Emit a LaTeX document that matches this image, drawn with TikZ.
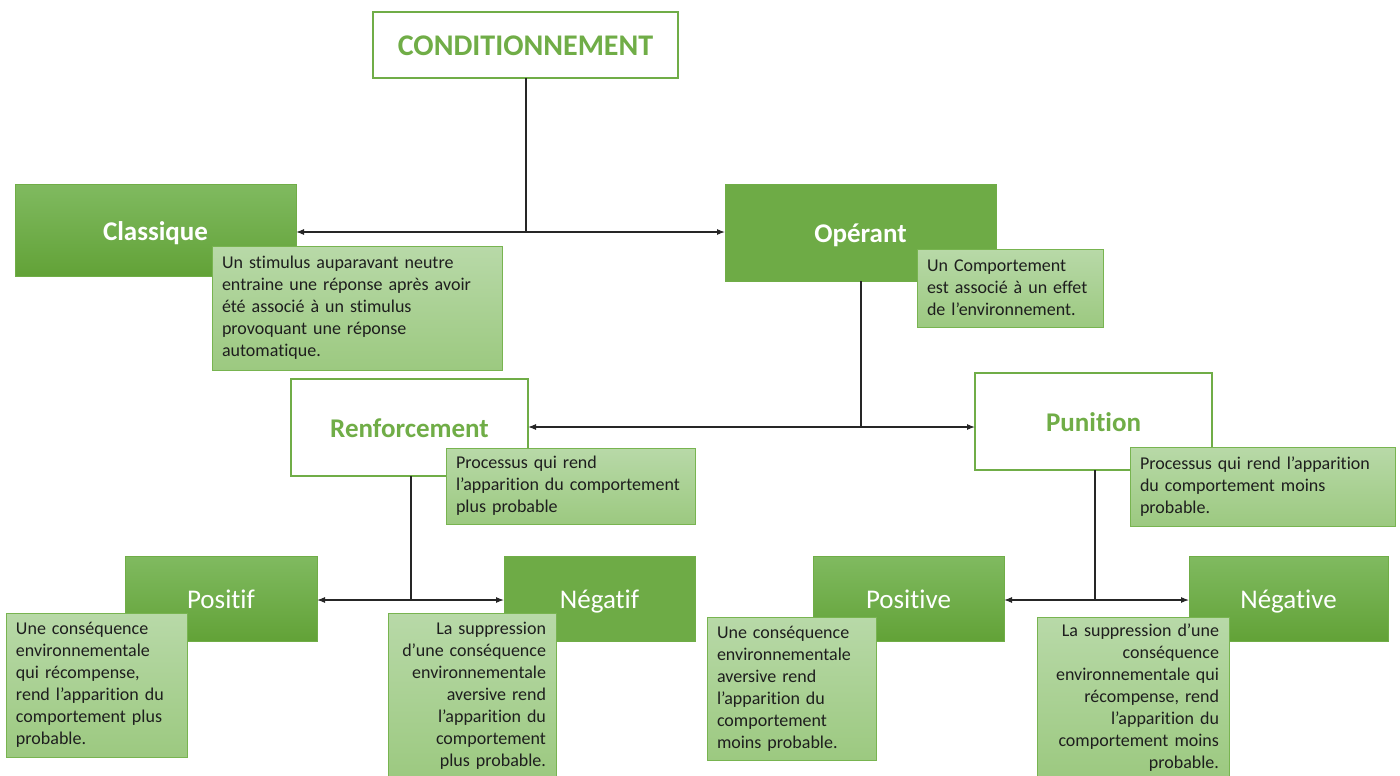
\documentclass[tikz,border=0pt]{standalone}
\usepackage{fontspec}
\setmainfont[Ligatures={NoCommon}]{Carlito}
\usetikzlibrary{arrows.meta}
\definecolor{gborder}{RGB}{112,173,71}
\definecolor{gtop}{RGB}{128,186,96}
\definecolor{gbot}{RGB}{98,162,55}
\definecolor{gflat}{RGB}{110,171,70}
\definecolor{dtop}{RGB}{184,217,168}
\definecolor{dbot}{RGB}{156,201,128}
\definecolor{dborder}{RGB}{120,180,80}
\definecolor{txt}{RGB}{30,30,30}
\tikzset{
  boxbase/.style={anchor=north west, inner sep=0pt, outer sep=0pt, align=center, text height=26pt, text depth=6pt},
  whitebox/.style={boxbase, draw=gborder, line width=1.3pt, fill=white, text=gborder, font=\fontsize{27}{30}\selectfont\bfseries},
  greenbox/.style={boxbase, draw=gborder, line width=0.6pt, top color=gtop, bottom color=gbot, text=white, font=\fontsize{27}{30}\selectfont\bfseries},
  flatbox/.style={boxbase, draw=gborder, line width=0.6pt, fill=gflat, text=white, font=\fontsize{27}{30}\selectfont\bfseries},
  regular/.style={font=\fontsize{27}{30}\selectfont},
  descbox/.style={anchor=north west, outer sep=0pt, inner xsep=10pt, inner ysep=0pt, draw=dborder, line width=0.8pt, top color=dtop, bottom color=dbot, text=txt, font=\fontsize{18}{22}\selectfont},
  conn/.style={draw=black!85, line width=1.1pt},
  biarrow/.style={conn, {Latex[length=8pt,width=6pt]}-{Latex[length=8pt,width=6pt]}},
}
\newcommand{\mybox}[7]{\node[#1, minimum width=#4pt, minimum height=#5pt, #6] (#2) at #3 {#7};}
\newcommand{\mydesc}[7]{\node[descbox, minimum height=#5pt, text width=#4pt-20pt, align=#6] (#2) at #3 {#7};}
\begin{document}
\begin{tikzpicture}[x=1pt,y=-1pt]
\useasboundingbox (0,0) rectangle (1400,776);
% main boxes
\mybox{whitebox}{cond}{(373,12)}{305}{66}{font=\fontsize{30}{32}\selectfont\bfseries, text height=21pt, text depth=0pt}{CONDITIONNEMENT}
\mybox{greenbox}{classique}{(15,184)}{281}{92}{}{Classique}
\mybox{flatbox}{operant}{(725,184)}{271}{97}{}{Opérant}
\mybox{whitebox}{renf}{(291,379)}{237}{97}{}{Renforcement}
\mybox{whitebox}{punition}{(975,373)}{237}{97}{}{Punition}
\mybox{greenbox}{positif}{(125,556)}{192}{85}{regular}{Positif}
\mybox{flatbox}{negatif}{(504,556)}{191}{85}{regular}{Négatif}
\mybox{greenbox}{positive}{(813,556)}{191}{85}{regular}{Positive}
\mybox{greenbox}{negative}{(1189,556)}{199}{85}{regular}{Négative}
% junctions
\coordinate (j1) at (526,232);
\coordinate (j2) at (861,427);
\coordinate (j3) at (411,600);
\coordinate (j4) at (1095,600);
% connectors
\draw[conn] (cond.south -| j1) -- (j1);
\draw[biarrow] (j1 -| classique.east) -- (j1 -| operant.west);
\draw[conn] (operant.south -| j2) -- (j2);
\draw[biarrow] (j2 -| renf.east) -- (j2 -| punition.west);
\draw[conn] (renf.south -| j3) -- (j3);
\draw[biarrow] (j3 -| positif.east) -- (j3 -| negatif.west);
\draw[conn] (punition.south -| j4) -- (j4);
\draw[biarrow] (j4 -| positive.east) -- (j4 -| negative.west);
% descriptions
\mydesc{}{dclassique}{(212,246)}{290}{124}{left}{Un stimulus auparavant neutre\\entraine une réponse après avoir\\été associé à un stimulus\\provoquant une réponse\\automatique.}
\mydesc{}{doperant}{(917,249)}{186}{78}{left}{Un Comportement\\est associé à un effet\\de l’environnement.}
\mydesc{}{drenf}{(446,448)}{249}{76}{left}{Processus qui rend\\l’apparition du comportement\\plus probable}
\mydesc{}{dpunition}{(1130,447)}{265}{79}{left}{Processus qui rend l’apparition\\du comportement moins\\probable.}
\mydesc{}{dpositif}{(6,613)}{181}{144}{left}{Une conséquence\\environnementale\\qui récompense,\\rend l’apparition du\\comportement plus\\probable.}
\mydesc{}{dnegatif}{(388,613)}{168}{166}{right}{La suppression\\d’une conséquence\\environnementale\\aversive rend\\l’apparition du\\comportement\\plus probable.}
\mydesc{}{dpositive}{(707,617)}{169}{143}{left}{Une conséquence\\environnementale\\aversive rend\\l’apparition du\\comportement\\moins probable.}
\mydesc{}{dnegative}{(1037,617)}{192}{162}{right}{La suppression d’une\\conséquence\\environnementale qui\\récompense, rend\\l’apparition du\\comportement moins\\probable.}
\end{tikzpicture}
\end{document}
